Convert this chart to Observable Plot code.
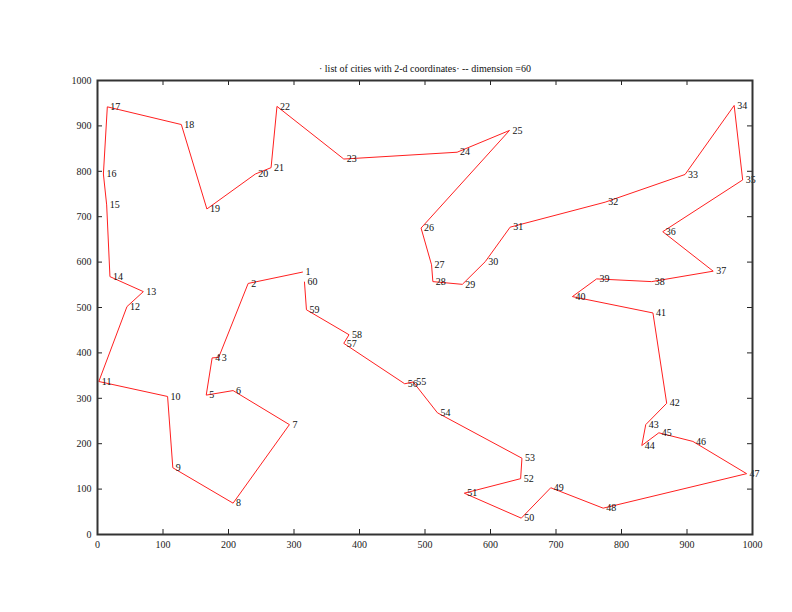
<!DOCTYPE html>
<html>
<head>
<meta charset="utf-8">
<script src="https://cdn.jsdelivr.net/npm/d3@7"></script>
<script src="https://cdn.jsdelivr.net/npm/@observablehq/plot@0.6"></script>
<style>
  html, body { margin: 0; padding: 0; background: #fff; }
  #chart { width: 792px; height: 612px; }
</style>
</head>
<body>
<div id="chart"></div>
<script>
const titleText = "· list of cities with 2-d coordinates· -- dimension =60";
const cityIds = [1,2,3,4,5,6,7,8,9,10,11,12,13,14,15,16,17,18,19,20,21,22,23,24,25,26,27,28,29,30,31,32,33,34,35,36,37,38,39,40,41,42,43,44,45,46,47,48,49,50,51,52,53,54,55,56,57,58,59,60];
const cityX = [313,230,185,175,166,207,293,207,115,107,2,45,70,19,14,9,15,128,167,241,265,274,376,549,629,494,510,512,557,592,630,775,897,972,985,863,940,846,762,725,848,869,837,831,857,909,991,772,692,647,560,646,648,519,482,469,376,384,319,316];
const cityY = [578,553,390,389,307,317,242,69,147,304,337,502,535,568,726,794,942,903,717,794,808,943,827,842,890,675,594,557,551,601,677,732,793,945,781,667,580,557,563,524,488,289,242,196,224,205,134,58,103,36,91,123,168,268,336,332,421,440,495,556];
const xTicks = [0,100,200,300,400,500,600,700,800,900,1000];
const yTicks = [0,100,200,300,400,500,600,700,800,900,1000];

const cities = cityIds.map((id, i) => ({id, x: cityX[i], y: cityY[i]}));

const W = 792, H = 612;
const mL = 97, mR = 40, mT = 80, mB = 78;
const fw = W - mL - mR, fh = H - mT - mB;
const tl = 5;
const font = "'Liberation Serif', 'DejaVu Serif', serif";

const chart = Plot.plot({
  width: W,
  height: H,
  marginLeft: mL,
  marginRight: mR,
  marginTop: mT,
  marginBottom: mB,
  style: {fontFamily: font, fontSize: "10px", background: "white", color: "#222"},
  x: {domain: [0, 1000], ticks: xTicks},
  y: {domain: [0, 1000], ticks: yTicks},
  marks: [
    Plot.axisX(xTicks, {tickSize: 0, tickPadding: 6, label: null, fontSize: 10, tickFormat: d => String(d)}),
    Plot.axisY(yTicks, {tickSize: 0, tickPadding: 6, label: null, fontSize: 10, tickFormat: d => String(d)}),
    Plot.tickX(xTicks, {x: d => d, insetTop: fh - tl, stroke: "#222", strokeWidth: 1}),
    Plot.tickX(xTicks, {x: d => d, insetBottom: fh - tl, stroke: "#222", strokeWidth: 1}),
    Plot.tickY(yTicks, {y: d => d, insetRight: fw - tl, stroke: "#222", strokeWidth: 1}),
    Plot.tickY(yTicks, {y: d => d, insetLeft: fw - tl, stroke: "#222", strokeWidth: 1}),
    Plot.line(cities, {x: "x", y: "y", stroke: "#ff2020", strokeWidth: 1}),
    Plot.text(cities, {x: "x", y: "y", text: "id", textAnchor: "start", dx: 3, fontSize: 10, fill: "#111"}),
    Plot.frame({stroke: "#333", strokeWidth: 2}),
    Plot.text([titleText], {frameAnchor: "top", dy: -16, text: d => d, fontSize: 10, fill: "#111"})
  ]
});
document.getElementById("chart").appendChild(chart);
</script>
</body>
</html>
